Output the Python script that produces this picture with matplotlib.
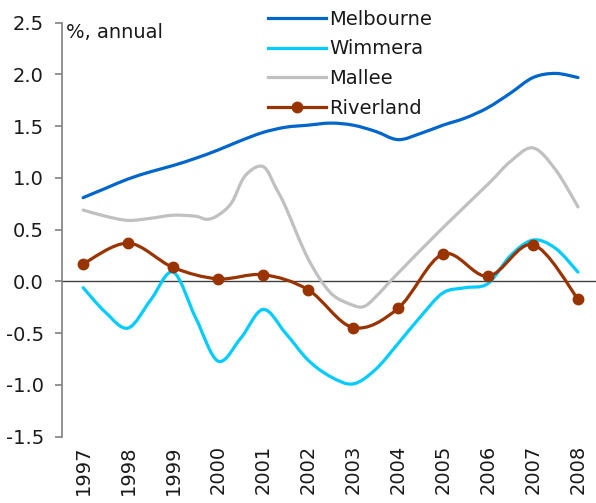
import numpy as np
import matplotlib
matplotlib.use("Agg")
import matplotlib.pyplot as plt
from matplotlib.path import Path
from matplotlib.patches import PathPatch
from matplotlib.lines import Line2D

# Population growth, % annual
half_years = [1997.0, 1997.5, 1998.0, 1998.5, 1999.0, 1999.5, 2000.0, 2000.5,
              2001.0, 2001.5, 2002.0, 2002.5, 2003.0, 2003.5, 2004.0, 2004.5,
              2005.0, 2005.5, 2006.0, 2006.5, 2007.0, 2007.5, 2008.0]

melbourne = [0.81, 0.90, 0.99, 1.06, 1.12, 1.19, 1.27, 1.36,
             1.44, 1.49, 1.51, 1.53, 1.51, 1.45, 1.37, 1.43,
             1.51, 1.58, 1.68, 1.82, 1.97, 2.01, 1.97]

wimmera = [-0.06, -0.30, -0.45, -0.18, 0.09, -0.35, -0.77, -0.55,
           -0.27, -0.50, -0.76, -0.92, -0.99, -0.85, -0.60, -0.34,
           -0.11, -0.06, -0.02, 0.25, 0.40, 0.32, 0.09]

mallee_years = [1997.0, 1997.5, 1998.0, 1998.5, 1999.0, 1999.5, 1999.75, 2000.0,
                2000.3, 2000.6, 2001.0, 2001.3, 2001.5, 2002.0, 2002.5, 2003.0,
                2003.25, 2003.5, 2004.0, 2005.0, 2006.0, 2006.5, 2007.0,
                2007.5, 2008.0]
mallee = [0.69, 0.63, 0.59, 0.61, 0.64, 0.63, 0.60, 0.64,
          0.76, 1.02, 1.11, 0.89, 0.72, 0.22, -0.11, -0.23,
          -0.24, -0.15, 0.08, 0.52, 0.94, 1.16, 1.29,
          1.08, 0.72]

years = [1997, 1998, 1999, 2000, 2001, 2002, 2003, 2004, 2005, 2006, 2007, 2008]
riverland = [0.17, 0.37, 0.135, 0.025, 0.065, -0.08, -0.445, -0.26,
             0.265, 0.05, 0.355, -0.17]

y_ticks = [-1.5, -1.0, -0.5, 0.0, 0.5, 1.0, 1.5, 2.0, 2.5]


def smooth_path(xs, ys):
    """Cubic Bezier path through the points (spreadsheet-style smoothed line)."""
    pts = np.column_stack([xs, ys]).astype(float)
    n = len(pts)
    verts = [pts[0]]
    codes = [Path.MOVETO]
    for i in range(n - 1):
        p0 = pts[i - 1] if i > 0 else pts[i]
        p1 = pts[i]
        p2 = pts[i + 1]
        p3 = pts[i + 2] if i + 2 < n else pts[i + 1]
        c1 = p1 + (p2 - p0) / 6.0
        c2 = p2 - (p3 - p1) / 6.0
        verts += [c1, c2, p2]
        codes += [Path.CURVE4] * 3
    return Path(verts, codes)


fig = plt.figure(figsize=(5.96, 5.03), dpi=100)
ax = fig.add_axes([62 / 596, 1 - 436.7 / 503, 1 - 62 / 596, (436.7 - 22.7) / 503])

font = "DejaVu Sans"
fs = 14
text_color = "#1a1a1a"
axis_grey = "#808080"
lw = 2.3

series = [
    ("Melbourne", half_years, melbourne, "#0066CC", None),
    ("Wimmera", half_years, wimmera, "#00CCFF", None),
    ("Mallee", mallee_years, mallee, "#C0C0C0", None),
    ("Riverland", years, riverland, "#993300", "o"),
]

ax.axhline(0, color="#404040", lw=1.0, zorder=1)

handles = []
for name, xs, ys, color, marker in series:
    patch = PathPatch(smooth_path(xs, ys), facecolor="none", edgecolor=color,
                      lw=lw, capstyle="round", joinstyle="round", zorder=3)
    ax.add_patch(patch)
    if marker:
        ax.plot(xs, ys, linestyle="none", marker=marker, color=color,
                markersize=7.5, zorder=4)
    handles.append(Line2D([], [], color=color, lw=lw, marker=marker,
                          markersize=7.5, label=name))

ax.set_xlim(1996.53, 2008.4)
ax.set_ylim(-1.5, 2.5)
ax.set_yticks(y_ticks)
ax.set_yticklabels([f"{v:.1f}" for v in y_ticks], fontsize=fs, family=font)
ax.set_xticks(years)
ax.set_xticklabels([str(y) for y in years], rotation=90, fontsize=fs,
                   family=font, va="top")

for side in ("top", "right", "bottom"):
    ax.spines[side].set_visible(False)
ax.spines["left"].set_color(axis_grey)
ax.spines["left"].set_linewidth(1.2)
ax.tick_params(axis="y", direction="out", length=5, width=1.2,
               color=axis_grey, pad=8, labelcolor=text_color)
ax.tick_params(axis="x", length=0, pad=6, labelcolor=text_color)

ax.text(0.008, 1.0, "%, annual", transform=ax.transAxes, ha="left", va="top",
        fontsize=fs, family=font, color=text_color)

leg = fig.legend(handles=handles, loc="upper left",
                 bbox_to_anchor=(268 / 596, 1 - 10 / 503),
                 frameon=False, prop={"family": font, "size": fs},
                 handlelength=3.0, handletextpad=0.15, labelspacing=0.54,
                 borderpad=0.0, borderaxespad=0.0)
for t in leg.get_texts():
    t.set_color(text_color)

fig.savefig("out.png", dpi=100)
